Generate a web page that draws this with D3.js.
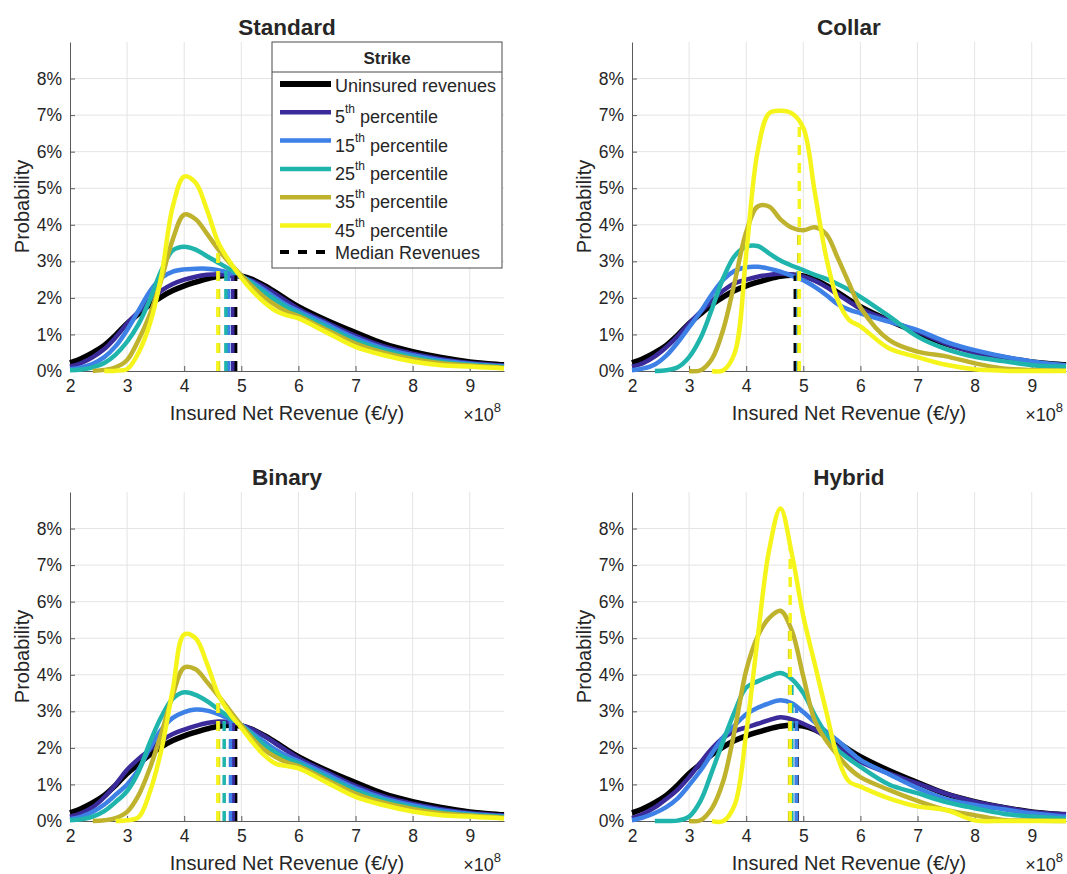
<!DOCTYPE html>
<html>
<head>
<meta charset="utf-8">
<script src="https://cdn.jsdelivr.net/npm/d3@7"></script>
<style>
	body { margin: 0; background: #fff; }
	svg text { font-family: "Liberation Sans", Arial, sans-serif; fill: #262626; }
</style>
</head>
<body>
<svg id="chart" width="1067" height="874"></svg>
<script>
// insured net revenue, x 10^8 EUR/y
const revenue = [2.0, 2.2, 2.4, 2.6, 2.8, 3.0, 3.2, 3.4, 3.6, 3.8, 4.0, 4.2, 4.4, 4.6, 4.8, 5.0, 5.2, 5.4, 5.6, 5.8, 6.0, 6.5, 7.0, 7.5, 8.0, 8.5, 9.0, 9.5, 9.6]

// probability in %, null = outside the density support
const uninsured = [0.22, 0.34, 0.5, 0.7, 0.98, 1.3, 1.56, 1.82, 2.03, 2.2, 2.33, 2.43, 2.52, 2.59, 2.62, 2.6, 2.5, 2.34, 2.15, 1.95, 1.76, 1.38, 1.05, 0.74, 0.53, 0.37, 0.25, 0.18, 0.17]

const std5  = [0.12, 0.22, 0.38, 0.6, 0.92, 1.3, 1.62, 1.95, 2.2, 2.38, 2.5, 2.58, 2.63, 2.65, 2.63, 2.57, 2.46, 2.3, 2.1, 1.9, 1.7, 1.32, 0.96, 0.67, 0.47, 0.32, 0.22, 0.16, 0.15]
const std15 = [0.05, 0.1, 0.2, 0.38, 0.68, 1.12, 1.65, 2.18, 2.55, 2.72, 2.78, 2.8, 2.8, 2.76, 2.68, 2.58, 2.42, 2.22, 2.0, 1.8, 1.64, 1.27, 0.9, 0.62, 0.43, 0.29, 0.2, 0.14, 0.13]
const std25 = [0.02, 0.04, 0.1, 0.22, 0.45, 0.8, 1.28, 1.95, 2.75, 3.3, 3.4, 3.32, 3.14, 2.96, 2.78, 2.6, 2.38, 2.15, 1.93, 1.74, 1.58, 1.2, 0.83, 0.57, 0.38, 0.25, 0.17, 0.12, 0.11]
const std35 = [null, null, 0, 0.03, 0.1, 0.3, 0.85, 1.55, 2.5, 3.6, 4.28, 4.15, 3.75, 3.32, 2.95, 2.62, 2.3, 2.02, 1.8, 1.62, 1.5, 1.12, 0.75, 0.5, 0.33, 0.21, 0.15, 0.1, 0.09]
const std45 = [null, null, null, 0, 0.01, 0.05, 0.5, 1.3, 2.6, 4.5, 5.32, 5.15, 4.4, 3.5, 2.98, 2.55, 2.18, 1.88, 1.65, 1.52, 1.44, 1.05, 0.66, 0.43, 0.26, 0.16, 0.12, 0.08, 0.07]

const col5  = [0.12, 0.22, 0.4, 0.65, 0.95, 1.3, 1.62, 1.92, 2.2, 2.4, 2.5, 2.58, 2.63, 2.66, 2.64, 2.58, 2.47, 2.3, 2.1, 1.9, 1.7, 1.38, 1.08, 0.75, 0.5, 0.35, 0.22, 0.16, 0.15]
const col15 = [0.02, 0.07, 0.18, 0.42, 0.78, 1.2, 1.62, 2.1, 2.5, 2.74, 2.84, 2.85, 2.8, 2.72, 2.6, 2.48, 2.3, 2.08, 1.83, 1.68, 1.58, 1.35, 1.12, 0.8, 0.57, 0.4, 0.26, 0.17, 0.16]
const col25 = [null, null, 0, 0.02, 0.1, 0.38, 0.9, 1.7, 2.55, 3.15, 3.4, 3.42, 3.22, 3.02, 2.88, 2.76, 2.63, 2.52, 2.38, 2.22, 2.03, 1.5, 0.94, 0.6, 0.39, 0.27, 0.16, 0.12, 0.12]
const col35 = [null, null, null, null, null, 0, 0.02, 0.33, 1.15, 2.45, 3.8, 4.5, 4.5, 4.15, 3.92, 3.85, 3.93, 3.75, 3.1, 2.4, 1.74, 0.85, 0.53, 0.4, 0.21, 0.07, 0.03, 0.01, 0.01]
const col45 = [null, null, null, null, null, null, null, 0, 0.02, 0.5, 3.2, 6.0, 7.05, 7.12, 7.05, 6.65, 4.9, 3.12, 1.95, 1.4, 1.22, 0.62, 0.38, 0.17, 0.05, 0.01, 0, 0, 0]

const bin5  = [0.12, 0.22, 0.38, 0.65, 1.0, 1.4, 1.7, 1.95, 2.2, 2.38, 2.5, 2.6, 2.68, 2.72, 2.7, 2.62, 2.5, 2.33, 2.12, 1.92, 1.72, 1.33, 0.96, 0.67, 0.47, 0.32, 0.22, 0.16, 0.15]
const bin15 = [0.05, 0.12, 0.25, 0.45, 0.72, 1.0, 1.4, 2.0, 2.5, 2.82, 2.98, 3.05, 3.02, 2.92, 2.78, 2.62, 2.4, 2.17, 1.95, 1.78, 1.64, 1.27, 0.9, 0.62, 0.43, 0.29, 0.2, 0.14, 0.13]
const bin25 = [0.02, 0.05, 0.12, 0.27, 0.52, 0.82, 1.35, 2.15, 2.85, 3.35, 3.52, 3.45, 3.28, 3.05, 2.83, 2.62, 2.35, 2.08, 1.87, 1.7, 1.58, 1.2, 0.83, 0.57, 0.38, 0.25, 0.17, 0.12, 0.11]
const bin35 = [null, null, 0, 0.02, 0.08, 0.25, 0.7, 1.45, 2.4, 3.45, 4.2, 4.15, 3.8, 3.42, 3.02, 2.62, 2.25, 1.95, 1.75, 1.6, 1.5, 1.12, 0.75, 0.5, 0.33, 0.21, 0.15, 0.1, 0.09]
const bin45 = [null, null, null, null, 0, 0.02, 0.1, 0.8, 1.95, 3.6, 5.1, 5.0, 4.3, 3.45, 2.93, 2.55, 2.15, 1.8, 1.57, 1.5, 1.44, 1.05, 0.66, 0.43, 0.26, 0.16, 0.12, 0.08, 0.07]

const hyb5  = [0.08, 0.2, 0.37, 0.6, 0.86, 1.2, 1.6, 1.98, 2.28, 2.46, 2.56, 2.66, 2.76, 2.84, 2.78, 2.66, 2.5, 2.28, 2.02, 1.82, 1.62, 1.3, 1.03, 0.75, 0.53, 0.38, 0.25, 0.19, 0.19]
const hyb15 = [0.02, 0.1, 0.22, 0.38, 0.62, 0.98, 1.38, 1.85, 2.3, 2.62, 2.92, 3.1, 3.22, 3.3, 3.22, 2.98, 2.7, 2.45, 2.2, 1.93, 1.67, 1.28, 0.9, 0.6, 0.44, 0.32, 0.21, 0.13, 0.12]
const hyb25 = [null, null, 0, 0, 0.01, 0.12, 0.55, 1.35, 2.2, 3.0, 3.65, 3.82, 3.95, 4.05, 3.88, 3.5, 2.9, 2.38, 1.95, 1.7, 1.48, 1.0, 0.76, 0.52, 0.35, 0.2, 0.12, 0.07, 0.06]
const hyb35 = [null, null, null, null, null, 0, 0.02, 0.35, 1.1, 2.5, 4.12, 5.05, 5.55, 5.75, 5.2, 3.95, 2.75, 2.2, 1.8, 1.45, 1.2, 0.85, 0.55, 0.3, 0.16, 0.03, 0.01, 0, 0]
const hyb45 = [null, null, null, null, null, null, null, 0, 0, 0.45, 2.4, 5.0, 7.4, 8.55, 7.3, 5.6, 4.3, 3.0, 1.75, 1.08, 0.94, 0.62, 0.4, 0.3, 0.02, 0, 0, 0, 0]

// median revenues (x 10^8), order: uninsured, 5th .. 45th
const stdMedians = [4.9, 4.85, 4.78, 4.73, 4.6, 4.59]
const colMedians = [4.86, 4.9, 4.91, 4.91, 4.92, 4.93]
const binMedians = [4.9, 4.86, 4.81, 4.7, 4.6, 4.59]
const hybMedians = [4.89, 4.88, 4.88, 4.8, 4.76, 4.77]

const strikes = ['Uninsured revenues', '5', '15', '25', '35', '45']
const colors = ['#000000', '#3b2a9a', '#3d80e6', '#20b5ac', '#bfb32e', '#f5f51c']
const xTicks = [2, 3, 4, 5, 6, 7, 8, 9]
const yTicks = [0, 1, 2, 3, 4, 5, 6, 7, 8]

const plotW = 434, plotH = 329
const panels = [
	{title: 'Standard', x0: 70,  y0: 42,  series: [uninsured, std5, std15, std25, std35, std45], medians: stdMedians, legend: true},
	{title: 'Collar',   x0: 632, y0: 42,  series: [uninsured, col5, col15, col25, col35, col45], medians: colMedians},
	{title: 'Binary',   x0: 70,  y0: 492, series: [uninsured, bin5, bin15, bin25, bin35, bin45], medians: binMedians},
	{title: 'Hybrid',   x0: 632, y0: 492, series: [uninsured, hyb5, hyb15, hyb25, hyb35, hyb45], medians: hybMedians}
]

let svg = d3.select('#chart')

function valueAt(vals, m) {
	for (let i = 0; i < revenue.length - 1; i++) {
		if (m >= revenue[i] && m <= revenue[i+1]) {
			let t = (m - revenue[i]) / (revenue[i+1] - revenue[i])
			return vals[i] + t * (vals[i+1] - vals[i])
		}
	}
	return 0
}

function drawPanel(p) {
	let x = d3.scaleLinear().domain([2, 9.6]).range([p.x0, p.x0 + plotW])
	let y = d3.scaleLinear().domain([0, 9]).range([p.y0 + plotH, p.y0])
	let g = svg.append('g')

	// grid
	g.append('g').selectAll('line').data(xTicks.slice(1)).join('line')
		.attr('x1', d => x(d)).attr('x2', d => x(d))
		.attr('y1', y(0)).attr('y2', y(9))
		.attr('stroke', '#e4e4e4').attr('stroke-width', 1)
	g.append('g').selectAll('line').data(yTicks.slice(1)).join('line')
		.attr('x1', x(2)).attr('x2', x(9.6))
		.attr('y1', d => y(d)).attr('y2', d => y(d))
		.attr('stroke', '#e4e4e4').attr('stroke-width', 1)

	// axes
	let xAxis = g.append('g')
		.attr('transform', `translate(0,${y(0)})`)
		.call(d3.axisBottom(x).tickValues(xTicks).tickSizeInner(-5).tickSizeOuter(0).tickPadding(9))
	let yAxis = g.append('g')
		.attr('transform', `translate(${x(2)},0)`)
		.call(d3.axisLeft(y).tickValues(yTicks).tickSizeInner(-5).tickSizeOuter(0).tickPadding(8).tickFormat(d => d + '%'))
	for (let a of [xAxis, yAxis]) {
		a.select('.domain').attr('stroke', '#5a5a5a')
		a.selectAll('.tick line').attr('stroke', '#5a5a5a')
		a.selectAll('.tick text').style('font-size', '17.5px').attr('fill', '#262626')
	}

	// densities
	let line = d3.line()
		.defined(d => d[1] != null)
		.x(d => x(d[0])).y(d => y(d[1]))
		.curve(d3.curveCatmullRom.alpha(0.5))
	p.series.forEach((vals, i) => {
		g.append('path')
			.attr('d', line(revenue.map((r, j) => [r, vals[j]])))
			.attr('fill', 'none')
			.attr('stroke', colors[i])
			.attr('stroke-width', i == 0 ? 5.5 : 4.5)
			.attr('stroke-linejoin', 'round')
	})

	// medians
	p.medians.forEach((m, i) => {
		g.append('line')
			.attr('x1', x(m)).attr('x2', x(m))
			.attr('y1', y(0)).attr('y2', y(valueAt(p.series[i], m)))
			.attr('stroke', colors[i])
			.attr('stroke-width', 3.5)
			.attr('stroke-dasharray', '10,8')
	})

	// labels
	g.append('text')
		.attr('x', x(5.8)).attr('y', p.y0 - 15)
		.attr('text-anchor', 'middle').attr('dominant-baseline', 'central')
		.style('font-size', '22.5px').style('font-weight', 'bold')
		.attr('fill', '#000')
		.text(p.title)
	g.append('text')
		.attr('x', x(5.8)).attr('y', y(0) + 42)
		.attr('text-anchor', 'middle').attr('dominant-baseline', 'central')
		.style('font-size', '20px')
		.text('Insured Net Revenue (€/y)')
	g.append('text')
		.attr('transform', `translate(${p.x0 - 48},${p.y0 + plotH/2}) rotate(-90)`)
		.attr('text-anchor', 'middle').attr('dominant-baseline', 'central')
		.style('font-size', '20px')
		.text('Probability')
	let exp = g.append('text')
		.attr('x', x(9.6) - 3).attr('y', y(0) + 44)
		.attr('text-anchor', 'end').attr('dominant-baseline', 'central')
		.style('font-size', '18px')
	exp.append('tspan').text('\u00d710')
	exp.append('tspan').attr('dy', -8).style('font-size', '13px').text('8')

	if (p.legend) drawLegend(g)
}

function drawLegend(g) {
	let lx = 272, ly = 42, lw = 230, lh = 226
	g.append('rect')
		.attr('x', lx).attr('y', ly).attr('width', lw).attr('height', lh)
		.attr('fill', '#fff').attr('stroke', '#4a4a4a').attr('stroke-width', 1)
	g.append('line')
		.attr('x1', lx).attr('x2', lx + lw)
		.attr('y1', ly + 30).attr('y2', ly + 30)
		.attr('stroke', '#4a4a4a').attr('stroke-width', 1)
	g.append('text')
		.attr('x', lx + lw/2).attr('y', ly + 16)
		.attr('text-anchor', 'middle').attr('dominant-baseline', 'central')
		.style('font-size', '17px').style('font-weight', 'bold').attr('fill', '#000')
		.text('Strike')

	strikes.forEach((s, i) => {
		let cy = ly + 42 + i * 28.3
		g.append('line')
			.attr('x1', lx + 8).attr('x2', lx + 59)
			.attr('y1', cy).attr('y2', cy)
			.attr('stroke', colors[i]).attr('stroke-width', i == 0 ? 6 : 4.5)
		let t = g.append('text')
			.attr('x', lx + 63).attr('y', cy + (i == 0 ? 2 : 5))
			.attr('dominant-baseline', 'central')
			.style('font-size', '18px')
		if (i == 0) {
			t.text(s)
		} else {
			t.append('tspan').text(s)
			t.append('tspan').attr('dy', -8).style('font-size', '12px').text('th')
			t.append('tspan').attr('dy', 8).text(' percentile')
		}
	})
	let my = ly + 210
	g.append('line')
		.attr('x1', lx + 8).attr('x2', lx + 59)
		.attr('y1', my).attr('y2', my)
		.attr('stroke', '#000').attr('stroke-width', 4)
		.attr('stroke-dasharray', '9,9')
	g.append('text')
		.attr('x', lx + 63).attr('y', my + 1)
		.attr('dominant-baseline', 'central')
		.style('font-size', '18px')
		.text('Median Revenues')
}

panels.forEach(drawPanel)
</script>
</body>
</html>
